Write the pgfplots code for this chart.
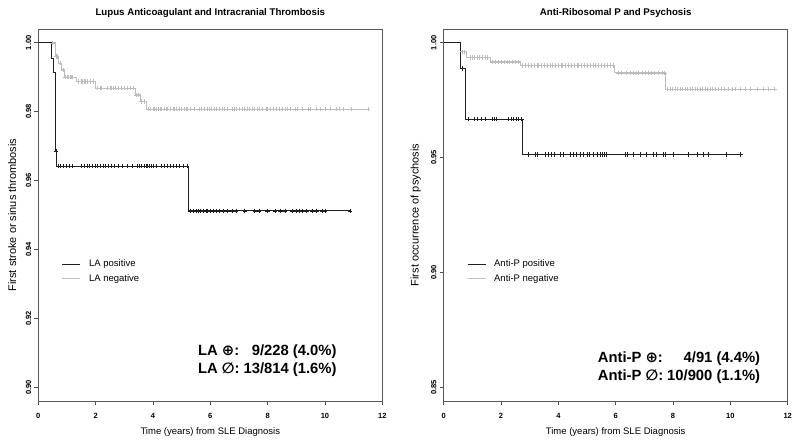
\documentclass[border=0pt]{standalone}
\usepackage{pgfplots}
\pgfplotsset{compat=1.18}
\usepackage{fontspec}
\setmainfont{Liberation Sans}
\newfontfamily\symf{DejaVu Sans}
\definecolor{darkc}{gray}{0.12}
\definecolor{lightc}{gray}{0.74}
\pgfplotsset{
  kmstyle/.style={
    scale only axis, width=344pt, height=372pt,
    xmin=0, xmax=12, xtick={0,2,4,6,8,10,12},
    xtick pos=lower, ytick pos=left,
    tick align=outside, major tick length=4pt,
    tick style={black!70, line width=0.6pt},
    axis line style={black!65, line width=0.8pt},
    /pgf/number format/assume math mode=true,
    ticklabel style={font=\bfseries\fontsize{7.5}{8}\selectfont},
    yticklabel style={rotate=90, anchor=south, inner sep=3pt,
      /pgf/number format/fixed, /pgf/number format/fixed zerofill,
      /pgf/number format/precision=2},
    xticklabel style={inner sep=0pt, yshift=-8.5pt},
    every axis y label/.style={at={(axis description cs:0,0.5)}, rotate=90,
      anchor=center, font=\fontsize{11}{12}\selectfont},
    every axis x label/.style={at={(axis description cs:0.5,0)}, yshift=-31pt,
      anchor=center, font=\fontsize{9.5}{11}\selectfont},
    every axis title/.style={at={(axis description cs:0.5,1)}, yshift=13pt, anchor=base,
      font=\bfseries\fontsize{9.7}{11}\selectfont},
    legend cell align=left,
    reverse legend,
    legend image code/.code={\draw[##1, line width=1.2pt] (0pt,0pt) -- (18pt,0pt);},
    legend style={draw=none, fill=none, inner sep=0pt, row sep=2pt, column sep=6pt,
      font=\fontsize{9.5}{11}\selectfont},
  },
  posline/.style={const plot, darkc, line width=0.8pt, mark=none},
  negline/.style={const plot, lightc, line width=0.8pt, mark=none},
  posmark/.style={only marks, mark=+, mark size=2.2pt, darkc, mark options={line width=0.5pt}, forget plot},
  negmark/.style={only marks, mark=+, mark size=2.2pt, lightc, mark options={line width=0.5pt}, forget plot},
}
\begin{document}
\begin{tikzpicture}
\path[use as bounding box] (-38.3pt,-46pt) rectangle (761.7pt,401pt);
% ---------------- Left panel ----------------
\begin{axis}[kmstyle, at={(0pt,0pt)}, anchor=south west,
  ymin=0.896, ymax=1.004, ytick={0.90,0.92,0.94,0.96,0.98,1.00},
  title={Lupus Anticoagulant and Intracranial Thrombosis},
  xlabel={Time (years) from SLE Diagnosis},
  ylabel={First stroke or sinus thrombosis},
  every axis y label/.append style={yshift=26pt},
  legend style={at={(rel axis cs:0.068,0.385)}, anchor=north west}]
\addplot[negline] coordinates {(0,1) (0.58,0.99605) (0.70,0.9941) (0.82,0.99215) (0.90,0.99003) (1.34,0.98878) (1.98,0.98683) (3.37,0.9849) (3.55,0.9830) (3.78,0.9808) (11.5,0.9808)};
\addlegendentry{LA negative}
\addplot[negmark] coordinates {(0.5,1) (0.62,0.99605) (0.66,0.99605) (0.75,0.9941) (0.86,0.99215)
 (0.95,0.99003) (1.0,0.99003) (1.05,0.99003) (1.1,0.99003) (1.15,0.99003) (1.2,0.99003)
 (1.4,0.98878) (1.5,0.98878) (1.55,0.98878) (1.6,0.98878) (1.65,0.98878) (1.7,0.98878) (1.8,0.98878) (1.9,0.98878)
 (2.05,0.98683) (2.15,0.98683) (2.2,0.98683) (2.4,0.98683) (2.5,0.98683) (2.55,0.98683) (2.6,0.98683) (2.7,0.98683) (2.8,0.98683) (2.9,0.98683) (3.0,0.98683) (3.1,0.98683) (3.2,0.98683) (3.3,0.98683)
 (3.42,0.9849) (3.5,0.9849) (3.6,0.9830) (3.7,0.9830)
 (3.85,0.9808) (3.9,0.9808) (4.0,0.9808) (4.05,0.9808) (4.1,0.9808) (4.2,0.9808) (4.25,0.9808) (4.3,0.9808) (4.4,0.9808) (4.45,0.9808) (4.5,0.9808) (4.6,0.9808) (4.7,0.9808) (4.75,0.9808) (4.8,0.9808) (4.9,0.9808) (5.0,0.9808) (5.1,0.9808) (5.15,0.9808) (5.2,0.9808) (5.3,0.9808) (5.45,0.9808) (5.6,0.9808) (5.7,0.9808) (5.8,0.9808) (5.9,0.9808) (5.95,0.9808) (6.05,0.9808) (6.15,0.9808) (6.2,0.9808) (6.3,0.9808) (6.4,0.9808) (6.5,0.9808) (6.6,0.9808) (6.75,0.9808) (6.85,0.9808) (6.9,0.9808) (7.0,0.9808) (7.1,0.9808) (7.2,0.9808) (7.3,0.9808) (7.35,0.9808) (7.45,0.9808) (7.55,0.9808) (7.65,0.9808) (7.7,0.9808) (7.8,0.9808) (7.95,0.9808) (8.0,0.9808) (8.1,0.9808) (8.2,0.9808) (8.3,0.9808) (8.4,0.9808) (8.5,0.9808) (8.6,0.9808) (8.7,0.9808) (8.8,0.9808) (8.95,0.9808) (9.05,0.9808) (9.2,0.9808) (9.4,0.9808) (9.5,0.9808) (9.7,0.9808) (9.85,0.9808) (10.0,0.9808) (10.2,0.9808) (10.4,0.9808) (10.5,0.9808) (10.65,0.9808) (10.9,0.9808) (11.5,0.9808)};
\addplot[posline] coordinates {(0,1) (0.44,0.99546) (0.52,0.9913) (0.59,0.9686) (0.64,0.9642) (5.23,0.9512) (10.87,0.9512)};
\addlegendentry{LA positive}
\addplot[posmark] coordinates {(0.61,0.9686)
 (0.68,0.9642) (0.78,0.9642) (0.88,0.9642) (0.98,0.9642) (1.08,0.9642) (1.18,0.9642) (1.5,0.9642) (1.6,0.9642) (1.7,0.9642) (1.78,0.9642) (1.88,0.9642) (1.98,0.9642) (2.05,0.9642) (2.15,0.9642) (2.25,0.9642) (2.35,0.9642) (2.45,0.9642) (2.55,0.9642) (2.65,0.9642) (2.78,0.9642) (2.92,0.9642) (3.09,0.9642) (3.27,0.9642) (3.45,0.9642) (3.52,0.9642) (3.6,0.9642) (3.68,0.9642) (3.75,0.9642) (3.8,0.9642) (3.88,0.9642) (3.95,0.9642) (4.02,0.9642) (4.1,0.9642) (4.3,0.9642) (4.4,0.9642) (4.5,0.9642) (4.62,0.9642) (4.7,0.9642) (4.8,0.9642) (4.9,0.9642) (5.05,0.9642) (5.18,0.9642)
 (5.3,0.9512) (5.4,0.9512) (5.5,0.9512) (5.58,0.9512) (5.65,0.9512) (5.75,0.9512) (5.85,0.9512) (5.9,0.9512) (6.0,0.9512) (6.1,0.9512) (6.2,0.9512) (6.3,0.9512) (6.45,0.9512) (6.6,0.9512) (6.75,0.9512) (6.9,0.9512) (7.2,0.9512) (7.55,0.9512) (7.7,0.9512) (8.0,0.9512) (8.25,0.9512) (8.45,0.9512) (8.6,0.9512) (8.85,0.9512) (9.0,0.9512) (9.1,0.9512) (9.2,0.9512) (9.35,0.9512) (9.55,0.9512) (9.7,0.9512) (9.9,0.9512) (10.0,0.9512) (10.87,0.9512)};
\node[anchor=base west, inner sep=0pt, font=\bfseries\fontsize{14.8}{18}\selectfont] at (rel axis cs:0.464,0.121)
 {\begin{tabular}[t]{@{}l@{\hspace{4pt}}r@{}}LA {\symf ⊕}: & 9/228 (4.0\%)\\ LA {\symf ∅}: & 13/814 (1.6\%)\end{tabular}};
\end{axis}
% ---------------- Right panel ----------------
\begin{axis}[kmstyle, at={(405.4pt,0pt)}, anchor=south west,
  ymin=0.844, ymax=1.006, ytick={0.85,0.90,0.95,1.00},
  title={Anti-Ribosomal P and Psychosis},
  xlabel={Time (years) from SLE Diagnosis},
  ylabel={First occurrence of psychosis},
  every axis y label/.append style={yshift=28pt},
  legend style={at={(rel axis cs:0.067,0.385)}, anchor=north west}]
\addplot[negline] coordinates {(0,1) (0.57,0.9961) (0.80,0.9935) (1.62,0.9917) (2.66,0.9901) (5.97,0.9869) (7.72,0.9798) (11.54,0.9798)};
\addlegendentry{Anti-P negative}
\addplot[negmark] coordinates {(0.64,0.9961) (0.73,0.9961)
 (0.92,0.9935) (1.0,0.9935) (1.08,0.9935) (1.16,0.9935) (1.24,0.9935) (1.34,0.9935) (1.45,0.9935) (1.53,0.9935)
 (1.7,0.9917) (1.8,0.9917) (1.9,0.9917) (2.0,0.9917) (2.1,0.9917) (2.2,0.9917) (2.3,0.9917) (2.4,0.9917) (2.5,0.9917) (2.6,0.9917)
 (2.75,0.9901) (2.85,0.9901) (2.95,0.9901) (3.05,0.9901) (3.15,0.9901) (3.25,0.9901) (3.3,0.9901) (3.4,0.9901) (3.5,0.9901) (3.6,0.9901) (3.7,0.9901) (3.8,0.9901) (3.9,0.9901) (4.0,0.9901) (4.1,0.9901) (4.15,0.9901) (4.25,0.9901) (4.35,0.9901) (4.45,0.9901) (4.55,0.9901) (4.65,0.9901) (4.7,0.9901) (4.8,0.9901) (4.9,0.9901) (5.0,0.9901) (5.1,0.9901) (5.2,0.9901) (5.3,0.9901) (5.4,0.9901) (5.5,0.9901) (5.6,0.9901) (5.7,0.9901) (5.8,0.9901) (5.9,0.9901)
 (6.1,0.9869) (6.2,0.9869) (6.38,0.9869) (6.5,0.9869) (6.61,0.9869) (6.71,0.9869) (6.79,0.9869) (6.91,0.9869) (7.03,0.9869) (7.14,0.9869) (7.23,0.9869) (7.35,0.9869) (7.5,0.9869) (7.62,0.9869) (7.70,0.9869)
 (7.81,0.9798) (7.89,0.9798) (7.97,0.9798) (8.07,0.9798) (8.16,0.9798) (8.24,0.9798) (8.32,0.9798) (8.42,0.9798) (8.51,0.9798) (8.59,0.9798) (8.67,0.9798) (8.77,0.9798) (8.86,0.9798) (8.94,0.9798) (9.02,0.9798) (9.12,0.9798) (9.21,0.9798) (9.29,0.9798) (9.37,0.9798) (9.47,0.9798) (9.56,0.9798) (9.68,0.9798) (9.79,0.9798) (9.93,0.9798) (10.05,0.9798) (10.17,0.9798) (10.34,0.9798) (10.52,0.9798) (10.69,0.9798) (10.93,0.9798) (11.16,0.9798) (11.33,0.9798) (11.54,0.9798)};
\addplot[posline] coordinates {(0,1) (0.58,0.9888) (0.77,0.9667) (2.74,0.9513) (10.35,0.9513)};
\addlegendentry{Anti-P positive}
\addplot[posmark] coordinates {(0.65,0.9888)
 (0.86,0.9667) (1.06,0.9667) (1.18,0.9667) (1.32,0.9667) (1.46,0.9667) (1.70,0.9667) (1.77,0.9667) (1.85,0.9667) (2.25,0.9667) (2.35,0.9667) (2.44,0.9667) (2.52,0.9667) (2.6,0.9667) (2.69,0.9667) (2.72,0.9667)
 (2.95,0.9513) (3.18,0.9513) (3.28,0.9513) (3.53,0.9513) (3.65,0.9513) (3.74,0.9513) (3.84,0.9513) (4.06,0.9513) (4.17,0.9513) (4.41,0.9513) (4.52,0.9513) (4.64,0.9513) (4.76,0.9513) (4.87,0.9513) (4.99,0.9513) (5.07,0.9513) (5.22,0.9513) (5.34,0.9513) (5.45,0.9513) (5.53,0.9513) (5.60,0.9513) (5.68,0.9513) (6.32,0.9513) (6.42,0.9513) (6.61,0.9513) (6.85,0.9513) (7.08,0.9513) (7.31,0.9513) (7.43,0.9513) (7.66,0.9513) (7.72,0.9513) (8.01,0.9513) (8.53,0.9513) (8.83,0.9513) (9.06,0.9513) (9.23,0.9513) (9.84,0.9513) (10.35,0.9513)};
\node[anchor=base west, inner sep=0pt, font=\bfseries\fontsize{14.8}{18}\selectfont] at (rel axis cs:0.4477,0.103)
 {\begin{tabular}[t]{@{}l@{\hspace{4pt}}r@{}}Anti-P {\symf ⊕}: & 4/91 (4.4\%)\\ Anti-P {\symf ∅}: & 10/900 (1.1\%)\end{tabular}};
\end{axis}
\end{tikzpicture}
\end{document}
